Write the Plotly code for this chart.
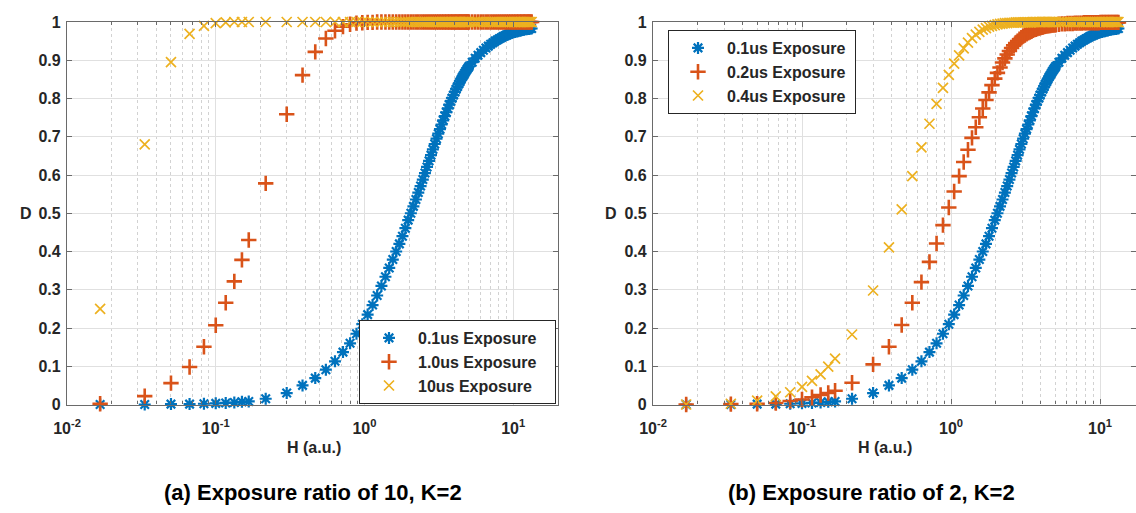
import plotly.graph_objects as go

# ---------------- data ----------------
H = [0.0167, 0.0333, 0.05, 0.0667, 0.0833, 0.1, 0.1167, 0.1333, 0.15, 0.1667,
     0.2167, 0.3, 0.3833, 0.4667, 0.55, 0.6333, 0.7167, 0.8, 0.8833, 0.9667,
     1.05, 1.1333, 1.2167, 1.3, 1.3833, 1.4667, 1.55, 1.6333, 1.7167, 1.8,
     1.8833, 1.9667, 2.05, 2.1333, 2.2167, 2.3, 2.3833, 2.4667, 2.55, 2.6333,
     2.7167, 2.8, 2.8833, 2.9667, 3.05, 3.1333, 3.2167, 3.3, 3.3833, 3.4667,
     3.55, 3.6333, 3.7167, 3.8, 3.8833, 3.9667, 4.05, 4.1333, 4.2167, 4.3,
     4.3833, 4.4667, 4.55, 4.6333, 4.7167, 4.8, 4.8833, 4.9667,
     5.05, 5.3, 5.55, 5.8, 6.05, 6.3, 6.55, 6.8, 7.05, 7.3, 7.55, 7.8,
     8.05, 8.3, 8.55, 8.8, 9.05, 9.3, 9.55, 9.8, 10.05, 10.3, 10.55, 10.8,
     11.05, 11.3, 11.55, 11.8, 12.05, 12.3, 12.55, 12.8, 13.05, 13.3]

# 0.1us exposure (same curve in both panels)
D_01us = [0, 0, 0.001, 0.001, 0.002, 0.003, 0.004, 0.005, 0.007, 0.008,
          0.015, 0.03, 0.05, 0.069, 0.091, 0.113, 0.137, 0.16, 0.185, 0.21,
          0.235, 0.26, 0.285, 0.31, 0.334, 0.357, 0.379, 0.4, 0.42, 0.44,
          0.461, 0.482, 0.5, 0.518, 0.536, 0.554, 0.571, 0.588, 0.605, 0.621,
          0.637, 0.652, 0.667, 0.681, 0.695, 0.708, 0.72, 0.732, 0.743, 0.754,
          0.764, 0.774, 0.784, 0.793, 0.801, 0.809, 0.817, 0.824, 0.831, 0.838,
          0.844, 0.85, 0.856, 0.861, 0.866, 0.871, 0.876, 0.88,
          0.884, 0.895, 0.905, 0.913, 0.92, 0.926, 0.932, 0.937, 0.942, 0.946, 0.95, 0.953,
          0.956, 0.959, 0.962, 0.964, 0.966, 0.968, 0.97, 0.972, 0.973, 0.974, 0.975, 0.976,
          0.977, 0.978, 0.979, 0.98, 0.981, 0.981, 0.982, 0.982, 0.983, 0.983]

# panel (a): 1.0us exposure
D_1us = [0.002, 0.022, 0.056, 0.098, 0.151, 0.207, 0.266, 0.322, 0.378, 0.43,
         0.578, 0.759, 0.861, 0.922, 0.957, 0.977, 0.988, 0.994, 0.997, 0.998,
         0.999, 0.999, 1, 1, 1, 1, 1, 1, 1, 1,
         1, 1, 1, 1, 1, 1, 1, 1, 1, 1,
         1, 1, 1, 1, 1, 1, 1, 1, 1, 1,
         1, 1, 1, 1, 1, 1, 1, 1, 1, 1,
         1, 1, 1, 1, 1, 1, 1, 1,
         1, 1, 1, 1, 1, 1, 1, 1, 1, 1, 1, 1,
         1, 1, 1, 1, 1, 1, 1, 1, 1, 1, 1, 1,
         1, 1, 1, 1, 1, 1, 1, 1, 1, 1]

# panel (a): 10us exposure
D_10us = [0.25, 0.68, 0.895, 0.969, 0.99, 0.997, 0.999, 1, 1, 1,
          1, 1, 1, 1, 1, 1, 1, 1, 1, 1,
          1, 1, 1, 1, 1, 1, 1, 1, 1, 1,
          1, 1, 1, 1, 1, 1, 1, 1, 1, 1,
          1, 1, 1, 1, 1, 1, 1, 1, 1, 1,
          1, 1, 1, 1, 1, 1, 1, 1, 1, 1,
          1, 1, 1, 1, 1, 1, 1, 1,
          1, 1, 1, 1, 1, 1, 1, 1, 1, 1, 1, 1,
          1, 1, 1, 1, 1, 1, 1, 1, 1, 1, 1, 1,
          1, 1, 1, 1, 1, 1, 1, 1, 1, 1]

# panel (b): 0.2us exposure
D_02us = [0, 0.001, 0.002, 0.004, 0.009, 0.013, 0.019, 0.025, 0.03, 0.036,
          0.057, 0.105, 0.151, 0.208, 0.266, 0.32, 0.373, 0.421, 0.469, 0.515,
          0.557, 0.597, 0.634, 0.666, 0.697, 0.725, 0.751, 0.774, 0.796, 0.816,
          0.835, 0.852, 0.867, 0.881, 0.894, 0.905, 0.915, 0.924, 0.932, 0.939,
          0.945, 0.95, 0.955, 0.959, 0.963, 0.966, 0.969, 0.972, 0.974, 0.976,
          0.978, 0.98, 0.981, 0.983, 0.984, 0.985, 0.986, 0.987, 0.988, 0.989,
          0.99, 0.99, 0.991, 0.991, 0.992, 0.992, 0.993, 0.993,
          0.993, 0.994, 0.995, 0.995, 0.996, 0.996, 0.996, 0.997, 0.997, 0.997, 0.997, 0.998,
          0.998, 0.998, 0.998, 0.998, 0.998, 0.998, 0.998, 0.998, 0.999, 0.999, 0.999, 0.999,
          0.999, 0.999, 0.999, 0.999, 0.999, 0.999, 0.999, 0.999, 0.999, 0.999]

# panel (b): 0.4us exposure
D_04us = [0, 0.002, 0.01, 0.021, 0.032, 0.046, 0.062, 0.079, 0.099, 0.12,
          0.183, 0.298, 0.411, 0.51, 0.597, 0.672, 0.734, 0.786, 0.828, 0.862,
          0.891, 0.913, 0.931, 0.946, 0.958, 0.967, 0.974, 0.98, 0.984, 0.988,
          0.99, 0.992, 0.994, 0.995, 0.996, 0.997, 0.997, 0.998, 0.998, 0.998,
          0.999, 0.999, 0.999, 0.999, 0.999, 0.999, 0.999, 0.999, 0.999, 0.999,
          1, 1, 1, 1, 1, 1, 1, 1, 1, 1,
          1, 1, 1, 1, 1, 1, 1, 1,
          1, 1, 1, 1, 1, 1, 1, 1, 1, 1, 1, 1,
          1, 1, 1, 1, 1, 1, 1, 1, 1, 1, 1, 1,
          1, 1, 1, 1, 1, 1, 1, 1, 1, 1]

legend_a = ["0.1us Exposure", "1.0us Exposure", "10us Exposure"]
legend_b = ["0.1us Exposure", "0.2us Exposure", "0.4us Exposure"]
x_tickvals = [0.01, 0.1, 1, 10]
x_ticktext = ["10<sup>-2</sup>", "10<sup>-1</sup>", "10<sup>0</sup>", "10<sup>1</sup>"]
x_minorvals = [0.02, 0.03, 0.04, 0.05, 0.06, 0.07, 0.08, 0.09,
               0.2, 0.3, 0.4, 0.5, 0.6, 0.7, 0.8, 0.9,
               2, 3, 4, 5, 6, 7, 8, 9]
y_tickvals = [0, 0.1, 0.2, 0.3, 0.4, 0.5, 0.6, 0.7, 0.8, 0.9, 1]
y_ticktext = ["0", "0.1", "0.2", "0.3", "0.4", "0.5", "0.6", "0.7", "0.8", "0.9", "1"]
titles = ["(a) Exposure ratio of 10, K=2", "(b) Exposure ratio of 2, K=2"]

# ---------------- styling ----------------
W, Hpx = 1136, 513
BLUE, ORANGE, YELLOW = "#0072BD", "#D95319", "#EDB120"
FONT = "Liberation Sans, Arial, Helvetica, sans-serif"
AXC = "#6a6a6a"
PAD_A = "\u00a0\u00a0\u00a0"  # right padding inside the legend boxes
PAD_B = "\u00a0"


def px_x(p):
    return p / W


def px_y(p):
    return 1 - p / Hpx


styles = [
    dict(symbol="asterisk-open", size=10, color=BLUE, line=dict(color=BLUE, width=2.2)),
    dict(symbol="cross-thin-open", size=11, color=ORANGE, line=dict(color=ORANGE, width=2.6)),
    dict(symbol="x-thin-open", size=10, color=YELLOW, line=dict(color=YELLOW, width=1.7)),
]

fig = go.Figure()
series_a = [D_01us, D_1us, D_10us]
series_b = [D_01us, D_02us, D_04us]
for name, ys, st in zip(legend_a, series_a, styles):
    fig.add_trace(go.Scatter(x=H, y=ys, mode="markers", name=name + PAD_A, marker=st,
                             xaxis="x", yaxis="y", legend="legend", cliponaxis=False))
for name, ys, st in zip(legend_b, series_b, styles):
    fig.add_trace(go.Scatter(x=H, y=ys, mode="markers", name=name + PAD_B, marker=st,
                             xaxis="x2", yaxis="y2", legend="legend2", cliponaxis=False))

axis_common = dict(
    showline=True, linecolor=AXC, linewidth=1.2, mirror="allticks",
    ticks="inside", ticklen=5, tickcolor=AXC, tickwidth=1,
    showgrid=True, gridcolor="#e0e0e0", gridwidth=1, zeroline=False,
    automargin=False,
    tickfont=dict(family=FONT, size=16, color="#262626", weight="bold"),
)
xmax_a = 1.301
xmax_b = -2 + (W - 653) / 149.0

xa = dict(axis_common, type="log", tickmode="array", tickvals=x_tickvals, ticktext=x_ticktext,
          ticklabelstandoff=9,
          minor=dict(tickmode="array", tickvals=x_minorvals, ticks="inside", ticklen=3,
                     tickcolor=AXC, showgrid=True, gridcolor="#d2d2d2",
                     griddash="dot", gridwidth=1))
ya = dict(axis_common, tickmode="array", tickvals=y_tickvals, ticktext=y_ticktext,
          range=[0, 1], ticklabelstandoff=2)

legend_font = dict(family=FONT, size=16, color="#262626", weight="bold")
fig.update_layout(
    width=W, height=Hpx, margin=dict(l=0, r=0, t=0, b=0, autoexpand=False),
    paper_bgcolor="white", plot_bgcolor="white",
    xaxis=dict(xa, domain=[px_x(67), px_x(558)], range=[-2, xmax_a], anchor="y"),
    yaxis=dict(ya, domain=[px_y(404.5), px_y(22)], anchor="x"),
    xaxis2=dict(xa, domain=[px_x(653), 1.0], range=[-2, xmax_b], anchor="y2"),
    yaxis2=dict(ya, domain=[px_y(404.5), px_y(22)], anchor="x2"),
    legend=dict(x=px_x(359), y=px_y(320), xanchor="left", yanchor="top",
                bgcolor="white", bordercolor="#262626", borderwidth=1,
                font=legend_font, itemwidth=48, tracegroupgap=0),
    legend2=dict(x=px_x(668), y=px_y(30), xanchor="left", yanchor="top",
                 bgcolor="white", bordercolor="#262626", borderwidth=1,
                 font=legend_font, itemwidth=48, tracegroupgap=0),
    showlegend=True,
)

ann_font = dict(family=FONT, size=16, color="#262626", weight="bold")
annotations = [
    dict(text="D", x=px_x(26), y=px_y(213)),
    dict(text="D", x=px_x(611), y=px_y(213)),
    dict(text="H (a.u.)", x=px_x(314), y=px_y(447)),
    dict(text="H (a.u.)", x=px_x(885), y=px_y(447)),
]
for a in annotations:
    fig.add_annotation(xref="paper", yref="paper", showarrow=False,
                       xanchor="center", yanchor="middle", font=ann_font, **a)
for t, cx in zip(titles, [313, 871]):
    fig.add_annotation(text=t, xref="paper", yref="paper", x=px_x(cx), y=px_y(492),
                       showarrow=False, xanchor="center", yanchor="middle",
                       font=dict(family=FONT, size=22, color="black", weight="bold"))

fig.write_html("out.html", post_script="document.body.style.margin='0';",
               config={"displayModeBar": False})
